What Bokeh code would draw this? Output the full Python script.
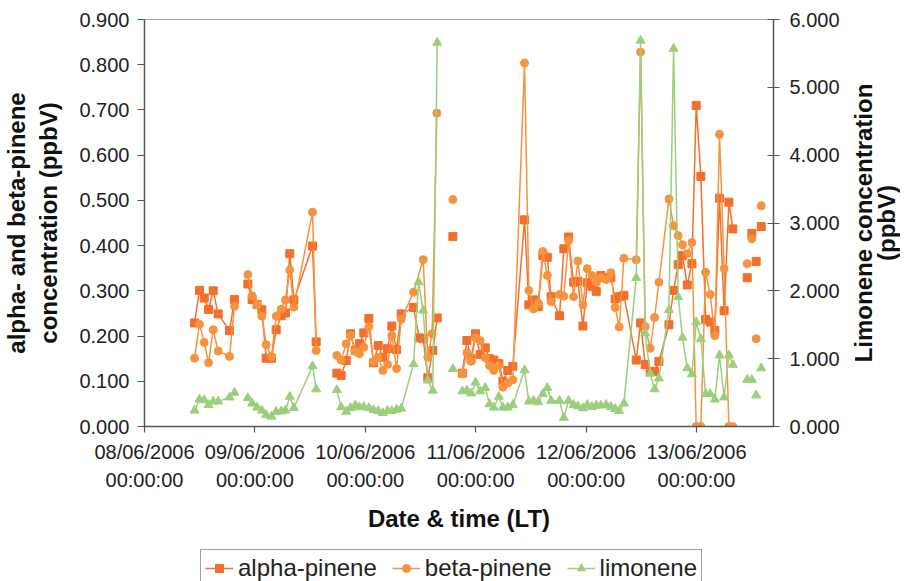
import math
import numpy as np
from bokeh.plotting import figure
from bokeh.layouts import column, row
from bokeh.core.properties import value
from bokeh.models import (Range1d, LinearAxis, FixedTicker, NumeralTickFormatter,
                          Legend, LegendItem)
from bokeh.embed import file_html
from bokeh.resources import INLINE

N = None  # gap in the record

# time in days since 08/06/2006 00:00:00 (LT)
alpha_days = [0.453, 0.498, 0.541, 0.580, 0.622, 0.667, 0.770, 0.815, N,
              0.936, 0.975, 1.020, 1.063, 1.102, 1.150, 1.193, 1.238, 1.277, 1.316, 1.353, 1.522, 1.555, N,
              1.742, 1.781, 1.827, 1.866, 1.908, 1.947, 1.986, 2.032, 2.074, 2.117, 2.159, 2.201, 2.240,
              2.283, 2.325, 2.437, 2.488, 2.524, 2.566, 2.611, 2.651, N,
              2.793, N,
              2.878, 2.920, 2.958, 2.998, 3.040, 3.086, 3.125, 3.164, 3.210, 3.246, 3.291, 3.336, 3.442,
              3.481, 3.524, 3.566, 3.608, 3.648, 3.683, 3.759, 3.798, 3.841, 3.886, 3.925, 3.971, 4.010,
              4.052, 4.092, 4.133, 4.182, 4.224, 4.263, 4.300, 4.342, 4.454, 4.493, 4.535, 4.580, 4.620,
              4.659, 4.750, 4.792, 4.834, 4.873, 4.916, 4.958, 4.997, 5.039, 5.082, 5.124, 5.166, 5.208,
              5.250, 5.293, 5.329, N,
              5.459, N, 5.501, N, 5.540, N, 5.586]
alpha_ppbv = [0.229, 0.301, 0.284, 0.259, 0.300, 0.249, 0.212, 0.281, N,
              0.315, 0.281, 0.270, 0.258, 0.151, 0.151, 0.214, 0.245, 0.251, 0.382, 0.280, 0.399, 0.187, N,
              0.118, 0.113, 0.146, 0.205, 0.168, 0.183, 0.207, 0.239, 0.141, 0.179, 0.153, 0.172, 0.222,
              0.170, 0.249, 0.263, 0.196, 0.194, 0.108, 0.168, 0.240, N,
              0.420, N,
              0.118, 0.190, 0.150, 0.205, 0.159, 0.174, 0.150, 0.147, 0.139, 0.100, 0.124, 0.133, 0.457,
              0.269, 0.280, 0.265, 0.378, 0.374, 0.287, 0.245, 0.393, 0.419, 0.319, 0.321, 0.222, 0.318,
              0.310, 0.299, 0.334, 0.329, 0.329, 0.282, 0.287, 0.290, 0.147, 0.229, 0.137, 0.122, 0.122,
              0.144, 0.225, 0.301, 0.358, 0.378, 0.313, 0.360, 0.710, 0.553, 0.237, 0.231, 0.212, 0.505,
              0.256, 0.496, 0.437, N,
              0.329, N, 0.427, N, 0.365, N, 0.442]

beta_days = [0.453, 0.498, 0.541, 0.580, 0.622, 0.667, 0.770, 0.815, N,
             0.936, 0.975, 1.020, 1.063, 1.102, 1.150, 1.193, 1.238, 1.277, 1.316, 1.353, 1.522, 1.555, N,
             1.742, 1.781, 1.827, 1.866, 1.908, 1.947, 1.986, 2.032, 2.074, 2.117, 2.159, 2.201, 2.240,
             2.283, 2.325, 2.437, 2.524, 2.566, 2.605, 2.648, N,
             2.793, N,
             2.878, 2.920, 2.958, 2.998, 3.040, 3.086, 3.125, 3.164, 3.210, 3.246, 3.291, 3.336, 3.442,
             3.481, 3.524, 3.566, 3.608, 3.648, 3.683, 3.759, 3.798, 3.841, 3.886, 3.925, 3.971, 4.010,
             4.052, 4.092, 4.133, 4.182, 4.224, 4.263, 4.300, 4.342, 4.454, 4.493, 4.535, 4.580, 4.620,
             4.659, 4.750, 4.792, 4.834, 4.873, 4.916, 4.958, 4.997, 5.039, 5.082, 5.124, 5.166, 5.208,
             5.250, 5.293, 5.329, N,
             5.459, N, 5.501, N, 5.540, N, 5.586]
beta_ppbv = [0.151, 0.226, 0.186, 0.141, 0.214, 0.167, 0.155, 0.266, N,
             0.336, 0.289, 0.270, 0.244, 0.181, 0.155, 0.244, 0.259, 0.280, 0.346, 0.264, 0.474, 0.168, N,
             0.157, 0.147, 0.183, 0.201, 0.166, 0.161, 0.175, 0.221, 0.144, 0.153, 0.124, 0.137, 0.201,
             0.128, 0.237, 0.297, 0.369, 0.153, 0.205, 0.693, N,
             0.502, N,
             0.117, 0.163, 0.144, 0.196, 0.190, 0.152, 0.135, 0.124, 0.135, 0.087, 0.096, 0.103, 0.804,
             0.301, 0.260, 0.273, 0.387, 0.334, 0.276, 0.292, 0.288, 0.411, 0.287, 0.366, 0.269, 0.349,
             0.334, 0.319, 0.329, 0.325, 0.340, 0.263, 0.220, 0.372, 0.369, 0.828, 0.221, 0.173, 0.241,
             0.319, 0.503, 0.444, 0.422, 0.402, 0.382, 0.407, 0.000, 0.000, 0.341, 0.292, 0.201, 0.646,
             0.349, 0.000, 0.000, N,
             0.360, N, 0.415, N, 0.194, N, 0.488]

limonene_days = [0.453, 0.498, 0.541, 0.580, 0.622, 0.667, 0.770, 0.815, N,
                 0.936, 0.975, 1.020, 1.063, 1.102, 1.150, 1.193, 1.238, 1.277, 1.316, 1.353, 1.522, 1.555, N,
                 1.742, 1.781, 1.827, 1.866, 1.908, 1.947, 1.986, 2.032, 2.074, 2.117, 2.159, 2.201, 2.240,
                 2.283, 2.325, 2.437, 2.482, 2.524, 2.566, 2.611, 2.651, N,
                 2.793, N,
                 2.878, 2.920, 2.958, 2.998, 3.040, 3.086, 3.125, 3.164, 3.210, 3.246, 3.291, 3.336, 3.442,
                 3.481, 3.524, 3.566, 3.608, 3.648, 3.683, 3.759, 3.798, 3.841, 3.886, 3.925, 3.971, 4.010,
                 4.052, 4.092, 4.133, 4.182, 4.224, 4.263, 4.300, 4.342, 4.454, 4.493, 4.535, 4.580, 4.620,
                 4.659, 4.750, 4.792, 4.834, 4.873, 4.916, 4.958, 4.997, 5.039, 5.082, 5.124, 5.166, 5.208,
                 5.250, 5.293, 5.329, N,
                 5.459, N, 5.501, N, 5.540, N, 5.586]
limonene_ppbv = [0.236, 0.398, 0.390, 0.320, 0.370, 0.370, 0.430, 0.500, N,
                 0.420, 0.340, 0.280, 0.236, 0.170, 0.147, 0.220, 0.225, 0.236, 0.440, 0.275, 0.890, 0.550, N,
                 0.540, 0.285, 0.220, 0.275, 0.310, 0.285, 0.290, 0.275, 0.245, 0.230, 0.200, 0.230, 0.230,
                 0.250, 0.265, 0.920, 2.130, 1.710, 0.680, 0.530, 5.660, N,
                 0.850, N,
                 0.520, 0.530, 0.490, 0.650, 0.520, 0.570, 0.330, 0.280, 0.440, 0.280, 0.280, 0.320, 0.830,
                 0.370, 0.380, 0.360, 0.480, 0.570, 0.380, 0.380, 0.130, 0.380, 0.320, 0.300, 0.270, 0.320,
                 0.290, 0.310, 0.310, 0.320, 0.290, 0.260, 0.230, 0.340, 2.190, 5.690, 1.375, 0.780, 0.550,
                 0.710, 1.720, 5.570, 1.910, 1.310, 0.860, 0.770, 1.540, 1.290, 0.480, 0.480, 0.400, 1.050,
                 0.430, 1.050, 0.910, N,
                 0.690, N, 0.690, N, 0.460, N, 0.860]

date_ticks = [0, 1, 2, 3, 4, 5]
date_labels = ["08/06/2006\n00:00:00", "09/06/2006\n00:00:00", "10/06/2006\n00:00:00",
               "11/06/2006\n00:00:00", "12/06/2006\n00:00:00", "13/06/2006\n00:00:00"]
pinene_ticks = [0.0, 0.1, 0.2, 0.3, 0.4, 0.5, 0.6, 0.7, 0.8, 0.9]
limonene_ticks = [0, 1, 2, 3, 4, 5, 6]
series_names = ["alpha-pinene", "beta-pinene", "limonene"]
right_title_lines = ["Limonene concentration", "(ppbV)"]

def arr(v):
    return np.array([np.nan if a is None else a for a in v], dtype=float)

FONT = "Liberation Sans"
C_ALPHA = "#F26F2C"
C_BETA = "#F7923F"
C_LIM = "#9CCF7C"
AXIS_C = "#555555"
TEXT_C = "#222222"

# ---------------- main chart ----------------
p = figure(width=845, height=545, output_backend="svg", toolbar_location=None,
           x_range=Range1d(0, 5.697), y_range=Range1d(0, 0.9),
           min_border_left=137, min_border_right=72, min_border_top=19, min_border_bottom=119)
p.extra_y_ranges = {"lim": Range1d(0, 6)}
p.xgrid.visible = False
p.ygrid.visible = False
p.outline_line_color = "#a6a6a6"
p.outline_line_width = 1
p.background_fill_color = "white"
p.border_fill_color = "white"

xa = p.xaxis[0]
xa.ticker = FixedTicker(ticks=date_ticks)
xa.major_label_overrides = {t: l for t, l in zip(date_ticks, date_labels)}
xa.minor_tick_line_color = None
xa.major_tick_in = 0
xa.major_tick_out = 6
xa.major_label_standoff = 8
xa.axis_label = "Date & time (LT)"
xa.axis_label_standoff = 11

ya = p.yaxis[0]
ya.ticker = FixedTicker(ticks=pinene_ticks)
ya.formatter = NumeralTickFormatter(format="0.000")
ya.minor_tick_line_color = None
ya.major_tick_in = 0
ya.major_tick_out = 7
ya.major_label_standoff = 8
ya.axis_label = "alpha- and beta-pinene\nconcentration (ppbV)"
ya.axis_label_standoff = 14

ra = LinearAxis(y_range_name="lim")
ra.ticker = FixedTicker(ticks=limonene_ticks)
ra.formatter = NumeralTickFormatter(format="0.000")
ra.minor_tick_line_color = None
ra.major_tick_in = 6
ra.major_tick_out = 6
ra.major_label_standoff = 10
p.add_layout(ra, "right")

for ax in (xa, ya, ra):
    ax.axis_line_color = AXIS_C
    ax.axis_line_width = 1.5
    ax.major_tick_line_color = AXIS_C
    ax.major_tick_line_width = 1.2
    ax.major_label_text_font = FONT
    ax.major_label_text_font_size = "20px"
    ax.major_label_text_color = TEXT_C
    ax.axis_label_text_font = FONT
    ax.axis_label_text_font_size = "24px"
    ax.axis_label_text_font_style = "bold"
    ax.axis_label_text_color = "#111111"
xa.major_label_text_line_height = 1.3

p.line(arr(alpha_days), arr(alpha_ppbv), line_color=C_ALPHA, line_width=1.5)
p.scatter(arr(alpha_days), arr(alpha_ppbv), marker="square", size=8,
          fill_color=C_ALPHA, line_color=C_ALPHA)
p.line(arr(beta_days), arr(beta_ppbv), line_color=C_BETA, line_width=1.5)
p.scatter(arr(beta_days), arr(beta_ppbv), marker="circle", size=8,
          fill_color=C_BETA, line_color=C_BETA)
p.line(arr(limonene_days), arr(limonene_ppbv), line_color=C_LIM, line_width=1.5,
       y_range_name="lim")
p.scatter(arr(limonene_days), arr(limonene_ppbv), marker="triangle", size=9,
          fill_color=C_LIM, line_color=C_LIM, y_range_name="lim")

# ---------------- right-hand axis title (reads bottom to top) ----------------
tf = figure(width=55, height=545, output_backend="svg", toolbar_location=None,
            x_range=Range1d(0, 1), y_range=Range1d(0, 1),
            x_axis_location=None, y_axis_location=None,
            min_border_left=0, min_border_right=0, min_border_top=19, min_border_bottom=119)
tf.xgrid.visible = False
tf.ygrid.visible = False
tf.outline_line_color = None
tf.text(x=[0.33, 0.75], y=[0.5, 0.5], text=right_title_lines, angle=math.pi / 2,
        text_align="center", text_baseline="middle", text_font=value(FONT),
        text_font_size="24px", text_font_style="bold", text_color="#111111")

# ---------------- legend strip ----------------
lg = figure(width=893, height=42, output_backend="svg", toolbar_location=None,
            x_range=Range1d(0, 1), y_range=Range1d(0, 1),
            x_axis_location=None, y_axis_location=None,
            min_border_left=137, min_border_right=127, min_border_top=0, min_border_bottom=0)
lg.xgrid.visible = False
lg.ygrid.visible = False
lg.outline_line_color = None
items = []
for name, col, mk, sz in zip(series_names, [C_ALPHA, C_BETA, C_LIM],
                             ["square", "circle", "triangle"], [8, 8, 9]):
    r1 = lg.line([np.nan], [np.nan], line_color=col, line_width=1.5)
    r2 = lg.scatter([np.nan], [np.nan], marker=mk, size=sz, fill_color=col, line_color=col)
    items.append(LegendItem(label=name, renderers=[r1, r2]))
legend = Legend(items=items, orientation="horizontal", location=(63, 0))
legend.label_text_font = FONT
legend.label_text_font_size = "24px"
legend.label_text_color = TEXT_C
legend.border_line_color = "#444444"
legend.border_line_width = 1
legend.background_fill_color = "white"
legend.background_fill_alpha = 1
legend.glyph_width = 28
legend.glyph_height = 20
legend.label_height = 22
legend.label_standoff = 5
legend.spacing = 15
legend.padding = 4
legend.margin = 0
lg.add_layout(legend, "center")

open("out.html", "w").write(file_html(column(row(p, tf), lg), INLINE))
